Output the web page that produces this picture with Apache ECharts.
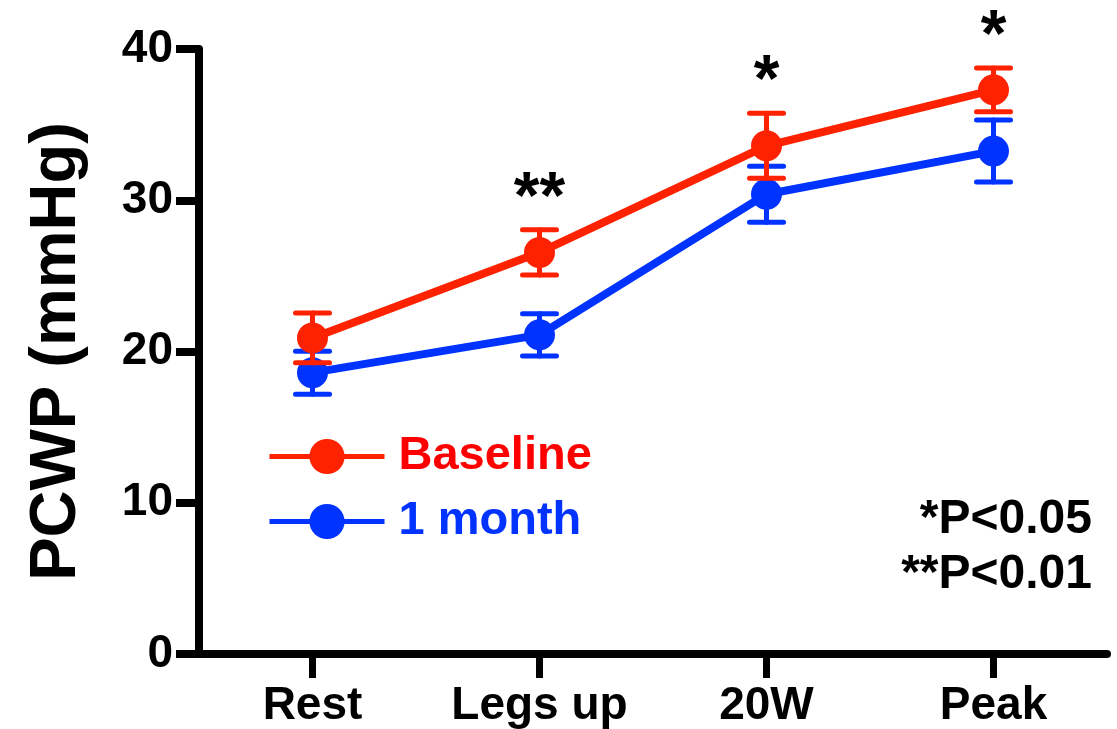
<!DOCTYPE html>
<html>
<head>
<meta charset="utf-8">
<title>PCWP</title>
<script src="https://cdn.jsdelivr.net/npm/echarts@6/dist/echarts.min.js"></script>
<style>
  html, body { margin: 0; padding: 0; background: #fff; }
  #chart { width: 1117px; height: 729px; }
</style>
</head>
<body>
<div id="chart"></div>
<script>
const categories = ['Rest', 'Legs up', '20W', 'Peak'];
const baselineMean = [20.9, 26.55, 33.6, 37.3];
const baselineErr = [1.65, 1.5, 2.15, 1.45];
const monthMean = [18.6, 21.1, 30.4, 33.25];
const monthErr = [1.42, 1.4, 1.85, 2.05];
const sigMarks = ['', '**', '*', '*'];
const pNotes = ['*P<0.05', '**P<0.01'];

const FONT = "'Liberation Sans', Arial, sans-serif";
const RED = '#ff2200';
const BLUE = '#0033ff';

const chart = echarts.init(document.getElementById('chart'));

// [index, low, high] rows for the error bar series
function errRows(mean, err) {
  return mean.map((m, i) => [i, m - err[i], m + err[i]]);
}

function errorBar(color) {
  return function (params, api) {
    const i = api.value(0);
    const lo = api.coord([i, api.value(1)]);
    const hi = api.coord([i, api.value(2)]);
    const half = 17;
    const style = { stroke: color, lineWidth: 5, lineCap: 'round' };
    return {
      type: 'group',
      children: [
        { type: 'line', shape: { x1: lo[0], y1: lo[1], x2: hi[0], y2: hi[1] }, style },
        { type: 'line', shape: { x1: hi[0] - half, y1: hi[1], x2: hi[0] + half, y2: hi[1] }, style },
        { type: 'line', shape: { x1: lo[0] - half, y1: lo[1], x2: lo[0] + half, y2: lo[1] }, style },
      ],
    };
  };
}

const sigData = sigMarks
  .map((s, i) => ({ name: s, coord: [i, baselineMean[i] + baselineErr[i]] }))
  .filter((d) => d.name);

const option = {
  animation: false,
  textStyle: { fontFamily: FONT },
  grid: { left: 199, right: 10, top: 49, bottom: 74.5 },
  legend: {
    orient: 'vertical',
    left: 262,
    top: 428,
    itemWidth: 115,
    itemHeight: 44,
    itemGap: 18,
    selectedMode: false,
    lineStyle: { width: 5 },
    textStyle: {
      fontFamily: FONT,
      fontSize: 47,
      fontWeight: 'bold',
      lineHeight: 44,
      padding: [0, 0, 0, 9],
    },
    data: [
      { name: 'Baseline', textStyle: { color: '#ff0000' } },
      { name: '1 month', textStyle: { color: BLUE } },
    ],
  },
  xAxis: {
    type: 'category',
    data: categories,
    axisLine: { lineStyle: { color: '#000', width: 8 } },
    axisTick: { show: true, alignWithLabel: true, interval: 0, length: 24, lineStyle: { color: '#000', width: 7 } },
    axisLabel: {
      interval: 0,
      margin: 29,
      color: '#000',
      fontFamily: FONT,
      fontSize: 46,
      fontWeight: 'bold',
    },
  },
  yAxis: {
    type: 'value',
    min: 0,
    max: 40,
    interval: 10,
    name: 'PCWP (mmHg)',
    nameLocation: 'middle',
    nameGap: 109,
    nameTextStyle: { color: '#000', fontFamily: FONT, fontSize: 65, fontWeight: 'bold' },
    splitLine: { show: false },
    axisLine: { show: true, lineStyle: { color: '#000', width: 8 } },
    axisTick: { show: true, length: 23, lineStyle: { color: '#000', width: 8 } },
    axisLabel: {
      margin: 26,
      color: '#000',
      fontFamily: FONT,
      fontSize: 46,
      fontWeight: 'bold',
    },
  },
  series: [
    {
      name: '1 month',
      type: 'line',
      data: monthMean,
      symbol: 'circle',
      symbolSize: 31,
      color: BLUE,
      lineStyle: { width: 8, color: BLUE },
      itemStyle: { color: BLUE },
      z: 3,
    },
    {
      name: '1 month err',
      type: 'custom',
      data: errRows(monthMean, monthErr),
      renderItem: errorBar(BLUE),
      encode: { x: 0, y: [1, 2] },
      z: 4,
    },
    {
      name: 'Baseline',
      type: 'line',
      data: baselineMean,
      symbol: 'circle',
      symbolSize: 31,
      color: RED,
      lineStyle: { width: 8, color: RED },
      itemStyle: { color: RED },
      z: 5,
    },
    {
      name: 'Baseline err',
      type: 'custom',
      data: errRows(baselineMean, baselineErr),
      renderItem: errorBar(RED),
      encode: { x: 0, y: [1, 2] },
      z: 6,
      markPoint: {
        symbol: 'circle',
        symbolSize: 1,
        itemStyle: { color: 'rgba(0,0,0,0)' },
        label: {
          show: true,
          position: 'inside',
          offset: [0, -30],
          formatter: (p) => p.name,
          color: '#000',
          fontFamily: FONT,
          fontSize: 66,
          fontWeight: 'bold',
        },
        data: sigData,
      },
    },
  ],
  graphic: [
    {
      type: 'text',
      right: 25,
      top: 492,
      style: {
        text: pNotes.join('\n'),
        fill: '#000',
        font: 'bold 48px ' + FONT,
        textAlign: 'right',
        lineHeight: 55,
      },
    },
  ],
};

chart.setOption(option);
</script>
</body>
</html>
